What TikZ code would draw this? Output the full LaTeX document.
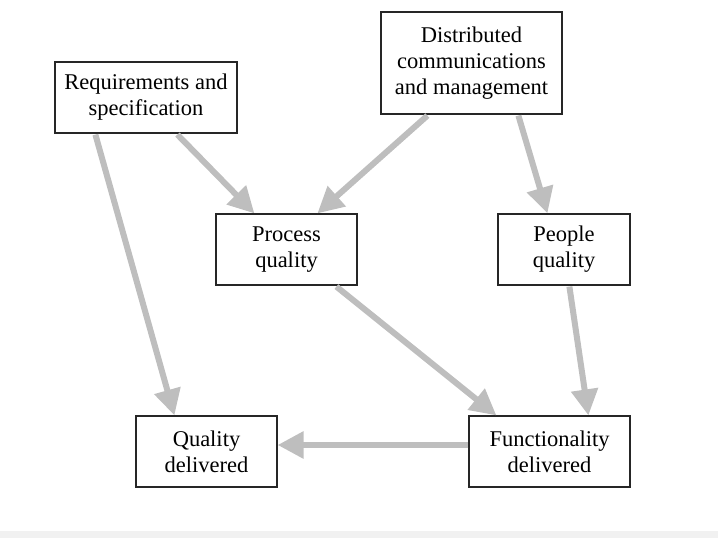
\documentclass[tikz,border=0pt]{standalone}
\usepackage{fontspec}
\setmainfont{Liberation Serif}
\usetikzlibrary{arrows.meta}
\definecolor{arrowgray}{HTML}{BEBEBE}
\definecolor{stripgray}{HTML}{F1F1F1}
\begin{document}
\begin{tikzpicture}[x=1pt,y=-1pt,
  box/.style={draw=black!85,line width=1.2pt,fill=white,align=center,inner sep=0pt,
    font=\fontsize{22.5}{26}\selectfont},
  conn/.style={draw=arrowgray,line width=6pt,-{Triangle[length=26pt,width=26pt]}}]
\useasboundingbox (0,0) rectangle (718,538);
\fill[stripgray] (0,531) rectangle (718,538);
\node[box,minimum width=182pt,minimum height=71pt] (req) at (146,97.5) {Requirements and\\specification};
\node[box,minimum width=181pt,minimum height=102pt] (dist) at (471.5,63) {Distributed\\communications\\and management};
\node[box,minimum width=141pt,minimum height=71pt] (proc) at (286.5,249.5) {Process\\quality};
\node[box,minimum width=132pt,minimum height=71pt] (peop) at (564,249.5) {People\\quality};
\node[box,minimum width=141pt,minimum height=71pt] (qual) at (206.5,451.5) {Quality\\delivered};
\node[box,minimum width=161pt,minimum height=71pt] (func) at (549.5,451.5) {Functionality\\delivered};
\draw[conn] ([xshift=41pt,yshift=-1pt]req.south west) -- ([xshift=39pt]qual.north west);
\draw[conn] ([xshift=123pt,yshift=-1pt]req.south west) -- ([xshift=39pt]proc.north west);
\draw[conn] ([xshift=47pt,yshift=-1pt]dist.south west) -- ([xshift=102pt]proc.north west);
\draw[conn] ([xshift=138pt,yshift=-1pt]dist.south west) -- ([xshift=50pt]peop.north west);
\draw[conn] ([xshift=121pt,yshift=-1pt]proc.south west) -- ([xshift=28pt]func.north west);
\draw[conn] ([xshift=72pt,yshift=-1pt]peop.south west) -- ([xshift=120pt]func.north west);
\draw[conn] ([yshift=6.5pt]func.west) -- ([yshift=6.5pt]qual.east);
\end{tikzpicture}
\end{document}
